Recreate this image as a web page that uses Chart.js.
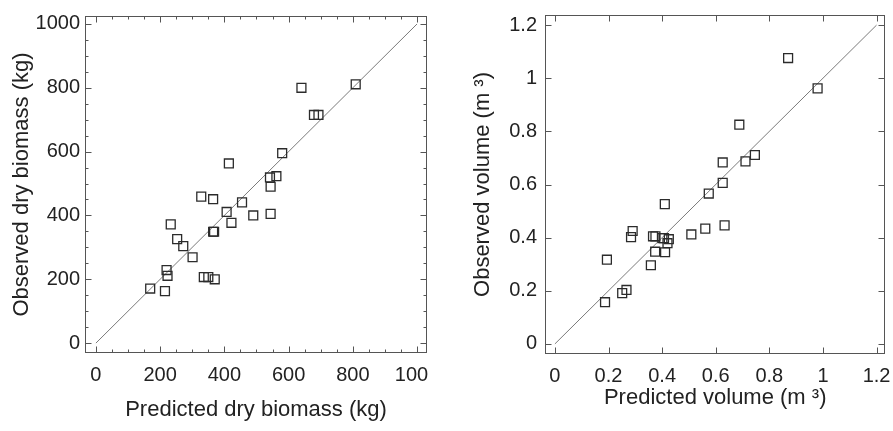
<!DOCTYPE html>
<html>
<head>
<meta charset="utf-8">
<script src="https://cdn.jsdelivr.net/npm/chart.js@4"></script>
<style>
body { margin: 0; background: #fff; }
#wrap { position: relative; width: 893px; height: 431px; overflow: hidden; }
#leftBox { position: absolute; left: 0; top: 0; width: 428px; height: 431px; overflow: hidden; }
#rightBox { position: absolute; left: 450px; top: 0; width: 443px; height: 431px; }
</style>
</head>
<body>
<div id="wrap">
  <div id="leftBox"><canvas id="chBiomass" width="450" height="431"></canvas></div>
  <div id="rightBox"><canvas id="chVolume" width="443" height="431"></canvas></div>
</div>
<script>
// Observed vs predicted - biomass (left) and volume (right)

// biomass, kg
const predBiomass = [640, 809, 679, 693, 580, 414, 542, 562, 544, 328, 365, 455, 407, 490, 544,
                     422, 233, 365, 368, 253, 272, 301, 220, 223, 169, 215, 336, 350, 370];
const obsBiomass  = [800, 811, 715, 715, 595, 563, 519, 523, 490, 459, 451, 441, 411, 400, 405,
                     377, 372, 349, 349, 326, 304, 269, 229, 211, 171, 163, 207, 207, 200];
const biomassTicks = [0, 200, 400, 600, 800, 1000];
const biomassLine = [0, 1000];

// volume, m3
const predVolume = [0.870, 0.980, 0.688, 0.626, 0.711, 0.746, 0.626, 0.574, 0.410, 0.633, 0.561, 0.509, 0.290, 0.284,
                    0.366, 0.375, 0.401, 0.407, 0.425, 0.420, 0.374, 0.411, 0.358, 0.194, 0.267, 0.251, 0.187];
const obsVolume  = [1.076, 0.962, 0.825, 0.683, 0.687, 0.711, 0.606, 0.566, 0.526, 0.446, 0.434, 0.412, 0.425, 0.402,
                    0.405, 0.405, 0.398, 0.398, 0.394, 0.379, 0.347, 0.345, 0.296, 0.317, 0.203, 0.191, 0.157];
const volumeTicks = [0, 0.2, 0.4, 0.6, 0.8, 1, 1.2];
const volumeLine = [0, 1.2];

Chart.defaults.font.family = '"Liberation Sans", Arial, sans-serif';
Chart.defaults.color = '#222';

// box round the plot, ticks pointing inwards on all four sides
const frameTicks = {
    id: 'frameTicks',
    afterDatasetsDraw(chart, args, opts) {
        const ctx = chart.ctx;
        const a = chart.chartArea;
        const sx = chart.scales.x, sy = chart.scales.y;
        const L = Math.round(a.left) + 0.5, R = Math.round(a.right) - 0.5;
        const T = Math.round(a.top) + 0.5, B = Math.round(a.bottom) - 0.5;
        ctx.save();
        ctx.strokeStyle = '#555';
        ctx.lineWidth = 1;
        ctx.beginPath();
        const xMark = (v, len) => {
            const p = Math.round(sx.getPixelForValue(v)) + 0.5;
            ctx.moveTo(p, B); ctx.lineTo(p, B - len);
            ctx.moveTo(p, T); ctx.lineTo(p, T + len);
        };
        const yMark = (v, len) => {
            const p = Math.round(sy.getPixelForValue(v)) + 0.5;
            ctx.moveTo(L, p); ctx.lineTo(L + len, p);
            ctx.moveTo(R, p); ctx.lineTo(R - len, p);
        };
        if (opts.minorStep) {
            for (let v = 0; v <= opts.minorMax; v += opts.minorStep) {
                xMark(v, 3);
                yMark(v, 3);
            }
        }
        opts.major.forEach(v => { xMark(v, 6); yMark(v, 6); });
        ctx.stroke();
        ctx.strokeRect(L, T, R - L, B - T);
        ctx.restore();
    }
};

function makeChart(id, xs, ys, lineVals, ticks, cfg) {
    const pts = xs.map((x, i) => ({ x: x, y: ys[i] }));
    return new Chart(document.getElementById(id), {
        type: 'scatter',
        data: {
            datasets: [{
                data: pts,
                pointStyle: 'rect',
                pointRadius: 6.3,
                pointBorderWidth: 1.3,
                pointBorderColor: '#2b2b2b',
                pointBackgroundColor: 'rgba(0,0,0,0)'
            }, {
                type: 'line',
                data: lineVals.map(v => ({ x: v, y: v })),
                borderColor: '#7a7a7a',
                borderWidth: 1,
                pointRadius: 0,
                fill: false
            }]
        },
        options: {
            responsive: false,
            animation: false,
            layout: { padding: cfg.padding },
            plugins: {
                legend: { display: false },
                tooltip: { enabled: false },
                frameTicks: { major: ticks, minorStep: cfg.minorStep, minorMax: cfg.minorMax }
            },
            scales: {
                x: {
                    type: 'linear', min: cfg.xMin, max: cfg.xMax,
                    afterBuildTicks: s => { s.ticks = ticks.map(v => ({ value: v })); },
                    afterFit: s => { s.height = cfg.xHeight; s.paddingLeft = 0; s.paddingRight = 0; },
                    grid: { display: false, drawTicks: false },
                    border: { display: false },
                    ticks: { font: { size: 20 }, padding: 10, maxRotation: 0, autoSkip: false, callback: v => String(v) },
                    title: { display: true, text: cfg.xTitle, font: { size: 22 }, padding: { top: 0, bottom: cfg.xTitlePad } }
                },
                y: {
                    type: 'linear', min: cfg.yMin, max: cfg.yMax,
                    afterBuildTicks: s => { s.ticks = ticks.map(v => ({ value: v })); },
                    afterFit: s => { s.width = cfg.yWidth; s.paddingTop = 0; s.paddingBottom = 0; },
                    grid: { display: false, drawTicks: false },
                    border: { display: false },
                    ticks: { font: { size: 20 }, padding: cfg.yTickPad, autoSkip: false, callback: v => String(v) },
                    title: { display: true, text: cfg.yTitle, font: { size: 22 }, padding: { top: cfg.yTitlePad, bottom: 0 } }
                }
            }
        },
        plugins: [frameTicks]
    });
}

makeChart('chBiomass', predBiomass, obsBiomass, biomassLine, biomassTicks, {
    padding: { left: 0, top: 16, right: 23, bottom: 0 },
    xMin: -34, xMax: 1031, yMin: -31, yMax: 1025,
    xHeight: 78, yWidth: 85, yTickPad: 5,
    xTitle: 'Predicted dry biomass (kg)', yTitle: 'Observed dry biomass (kg)',
    xTitlePad: 8, yTitlePad: 9,
    minorStep: 50, minorMax: 1000
});

makeChart('chVolume', predVolume, obsVolume, volumeLine, volumeTicks, {
    padding: { left: 0, top: 15, right: 7, bottom: 0 },
    xMin: -0.037, xMax: 1.233, yMin: -0.038, yMax: 1.238,
    xHeight: 77, yWidth: 95, yTickPad: 8,
    xTitle: 'Predicted volume (m ³)', yTitle: 'Observed volume (m ³)',
    xTitlePad: 20, yTitlePad: 20,
    minorStep: 0, minorMax: 0
});
</script>
</body>
</html>
